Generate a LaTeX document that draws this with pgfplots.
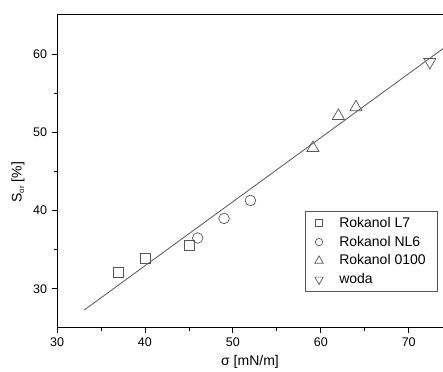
\documentclass[border=0pt]{standalone}
\usepackage{fontspec}
\setmainfont{Liberation Sans}
\usepackage{pgfplots}
\pgfplotsset{compat=1.18}
\definecolor{mk}{RGB}{85,85,85}
\begin{document}
\fontsize{14}{17}\selectfont
\begin{tikzpicture}
\begin{axis}[
  scale only axis, width=386pt, height=313pt,
  xmin=30, xmax=73.9, ymin=25, ymax=65,
  axis x line*=box, axis y line*=left,
  axis line style={black, line width=1pt},
  xtick={30,40,50,60,70}, ytick={30,40,50,60},
  minor xtick={35,45,55,65}, minor ytick={35,45,55},
  xtick pos=left, ytick pos=left,
  tick align=outside, major tick length=5pt, minor tick length=3pt,
  every tick/.style={black, line width=0.8pt},
  /pgf/number format/assume math mode=true,
  ticklabel style={font=\fontsize{12.5}{15}\selectfont},
  xlabel={σ [mN/m]},
  ylabel={S\raisebox{-0.35ex}{\fontsize{8}{8}\selectfont or} [\%]},
  xlabel style={at={(axis description cs:0.5,-0.109)}, anchor=center},
  ylabel style={at={(axis description cs:-0.101,0.466)}, anchor=center},
  legend style={at={(rel axis cs:0.987,0.115)}, anchor=south east, draw=mk, line width=0.6pt,
    font=\fontsize{14}{16}\selectfont, row sep=2.5pt, inner xsep=10pt, inner ysep=4pt,
    /tikz/every odd column/.append style={column sep=14pt}},
  legend cell align=left,
  legend image post style={scale=0.7},
]
\addplot[only marks, mark=square, mark size=5pt, mark options={draw=mk, fill=none, line width=0.7pt}]
  coordinates {(37,32.1) (40,33.9) (45,35.6)};
\addlegendentry{Rokanol L7}
\addplot[only marks, mark=o, mark size=5.3pt, mark options={draw=mk, fill=none, line width=0.7pt}]
  coordinates {(46,36.5) (49,39.0) (52,41.3)};
\addlegendentry{Rokanol NL6}
\addplot[only marks, mark=triangle, mark size=7pt, mark options={draw=mk, fill=none, line width=0.7pt}]
  coordinates {(59.1,48.0) (62,52.1) (64,53.2)};
\addlegendentry{Rokanol 0100}
\addplot[only marks, mark=triangle, mark size=7pt, mark options={draw=mk, fill=none, line width=0.7pt, rotate=180}]
  coordinates {(72.4,59.0)};
\addlegendentry{woda}
\addplot[forget plot, mk, line width=0.8pt, no marks] coordinates {(33.1,27.3) (75,61.6)};
\coordinate (bbsw) at (rel axis cs:-0.1477,-0.1406);
\coordinate (bbne) at (rel axis cs:1,1.0479);
\end{axis}
\pgfresetboundingbox
\useasboundingbox (bbsw) rectangle (bbne);
\end{tikzpicture}
\end{document}
